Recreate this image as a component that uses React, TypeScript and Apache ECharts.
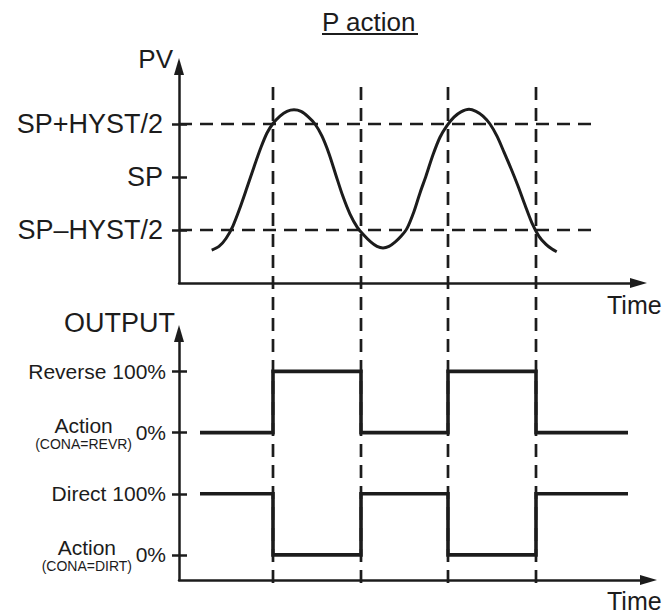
import React, { useEffect, useRef } from "react";
import * as echarts from "echarts";

// ---- data ----
// time axis (arbitrary time units)
const switchTimes = [94, 182, 269, 357]; // instants when PV crosses a hysteresis limit
// PV (level units: 1 = SP-HYST/2, 2 = SP, 3 = SP+HYST/2)
const pvTime = [
  32.7, 40, 47, 54, 61, 68, 75, 82, 88, 94, 101, 108, 115,
  122, 129, 136, 143, 150, 157, 164, 171, 178, 185, 192, 198, 204,
  210, 216, 222, 228, 235, 241, 247, 254, 261, 268, 275, 282, 290,
  297, 304, 311, 318, 325, 332, 339, 346, 353, 360, 367, 373, 377.7,
];
const pvValue = [
  0.62, 0.69, 0.84, 1.08, 1.42, 1.8, 2.19, 2.56, 2.83, 3.01, 3.15, 3.24, 3.27,
  3.24, 3.14, 3.0, 2.77, 2.44, 2.03, 1.63, 1.3, 1.06, 0.9, 0.77, 0.69, 0.66,
  0.69, 0.77, 0.88, 1.03, 1.35, 1.7, 2.02, 2.42, 2.75, 2.97, 3.13, 3.23, 3.28,
  3.24, 3.15, 3.0, 2.77, 2.47, 2.16, 1.83, 1.47, 1.13, 0.88, 0.73, 0.64, 0.59,
];
const hystLevels = [1, 3]; // SP-HYST/2, SP+HYST/2
const hystEnd = 414;
const pvTickValues = [1, 2, 3];
const pvTickLabels = ["SP\u2013HYST/2", "SP", "SP+HYST/2"];

const outTime = [21, 94, 182, 269, 357, 449];
const reverseOutput = [0, 100, 0, 100, 0, 0]; // %
const directOutput = [100, 0, 100, 0, 100, 100]; // %
const outTickValues = [0, 1, 2, 3];
const outTickLabels = ["0%", "Direct 100%", "0%", "Reverse 100%"];
const actionTickValues = [0, 2];
const actionTickLabels = ["(CONA=DIRT)", "(CONA=REVR)"];

const INK = "#1c1c1c";
const FONT = '"Liberation Sans", Arial, Helvetica, sans-serif';

const TOP_W = 459.5;
const BOT_W = 469.5;

function arrowAxisLine() {
  return {
    show: true,
    onZero: false,
    symbol: ["none", "triangle"],
    symbolSize: [10, 17],
    lineStyle: { color: INK, width: 2.5 },
  };
}

export default function App() {
  const ref = useRef<HTMLDivElement>(null);

  useEffect(() => {
    if (!ref.current) return;
    const chart = echarts.init(ref.current, null, { renderer: "svg" });

    const dashedVerticals = switchTimes.map((t) => ({
      type: "line",
      xAxisIndex: 2,
      yAxisIndex: 4,
      data: [
        [t, 0],
        [t, 1],
      ],
      showSymbol: false,
      silent: true,
      z: 1,
      lineStyle: { color: INK, width: 2.7, type: [13, 8] },
    }));

    const hystSeries = hystLevels.map((lv) => ({
      type: "line",
      xAxisIndex: 0,
      yAxisIndex: 0,
      data: [
        [0, lv],
        [hystEnd, lv],
      ],
      showSymbol: false,
      silent: true,
      z: 1,
      lineStyle: { color: INK, width: 2.7, type: [13, 8] },
    }));

    const option: any = {
      animation: false,
      backgroundColor: "#ffffff",
      textStyle: { fontFamily: FONT, color: INK },
      grid: [
        { left: 179, top: 66.5, width: TOP_W, height: 216.5 },
        { left: 179, top: 333.5, width: BOT_W, height: 246.5 },
        { left: 179, top: 80, width: TOP_W, height: 503 },
      ],
      xAxis: [
        {
          type: "value",
          gridIndex: 0,
          min: 0,
          max: TOP_W,
          axisLine: arrowAxisLine(),
          axisTick: { show: false },
          axisLabel: { show: false },
          splitLine: { show: false },
        },
        {
          type: "value",
          gridIndex: 1,
          min: 0,
          max: BOT_W,
          axisLine: arrowAxisLine(),
          axisTick: { show: false },
          axisLabel: { show: false },
          splitLine: { show: false },
        },
        {
          type: "value",
          gridIndex: 2,
          min: 0,
          max: TOP_W,
          show: false,
        },
      ],
      yAxis: [
        {
          type: "value",
          gridIndex: 0,
          position: "left",
          min: 0,
          max: 216.5 / 53,
          axisLine: arrowAxisLine(),
          axisTick: {
            show: true,
            length: 7,
            customValues: pvTickValues,
            lineStyle: { color: INK, width: 2.5 },
          },
          axisLabel: {
            customValues: pvTickValues,
            margin: 16,
            fontSize: 27,
            fontFamily: FONT,
            color: INK,
            formatter: (v: number) => pvTickLabels[pvTickValues.indexOf(v)] ?? "",
          },
          splitLine: { show: false },
        },
        {
          type: "value",
          gridIndex: 0,
          position: "left",
          offset: 0,
          min: 0,
          max: 216.5 / 53,
          axisLine: { show: false, onZero: false },
          axisTick: {
            show: true,
            inside: true,
            length: 8,
            customValues: pvTickValues,
            lineStyle: { color: INK, width: 2.5 },
          },
          axisLabel: { show: false },
          splitLine: { show: false },
        },
        {
          type: "value",
          gridIndex: 1,
          position: "left",
          min: -0.41,
          max: 3.62,
          axisLine: arrowAxisLine(),
          axisTick: {
            show: true,
            length: 7,
            customValues: outTickValues,
            lineStyle: { color: INK, width: 2.5 },
          },
          axisLabel: {
            customValues: outTickValues,
            margin: 13,
            fontSize: 21,
            fontFamily: FONT,
            color: INK,
            formatter: (v: number) => outTickLabels[outTickValues.indexOf(v)] ?? "",
          },
          splitLine: { show: false },
        },
        {
          type: "value",
          gridIndex: 1,
          position: "left",
          offset: 0,
          min: -0.41,
          max: 3.62,
          axisLine: { show: false, onZero: false },
          axisTick: {
            show: true,
            inside: true,
            length: 8,
            customValues: outTickValues,
            lineStyle: { color: INK, width: 2.5 },
          },
          axisLabel: {
            customValues: actionTickValues,
            margin: 47,
            formatter: (v: number) => {
              const s = actionTickLabels[actionTickValues.indexOf(v)];
              return s ? "{a|Action}\n{c|" + s + "}" : "";
            },
            rich: {
              a: { fontSize: 21, fontFamily: FONT, color: INK, align: "center", lineHeight: 22 },
              c: { fontSize: 14, fontFamily: FONT, color: INK, align: "center", lineHeight: 15 },
            },
          },
          splitLine: { show: false },
        },
        {
          type: "value",
          gridIndex: 2,
          min: 0,
          max: 1,
          show: false,
        },
      ],
      series: [
        ...dashedVerticals,
        ...hystSeries,
        {
          type: "line",
          name: "PV",
          xAxisIndex: 0,
          yAxisIndex: 0,
          data: pvTime.map((t, i) => [t, pvValue[i]]),
          smooth: 0.3,
          showSymbol: false,
          z: 5,
          lineStyle: { color: INK, width: 3 },
        },
        {
          type: "line",
          name: "Reverse",
          xAxisIndex: 1,
          yAxisIndex: 2,
          step: "end",
          data: outTime.map((t, i) => [t, 2 + reverseOutput[i] / 100]),
          showSymbol: false,
          z: 5,
          lineStyle: { color: INK, width: 3.6, join: "miter", cap: "butt" },
        },
        {
          type: "line",
          name: "Direct",
          xAxisIndex: 1,
          yAxisIndex: 2,
          step: "end",
          data: outTime.map((t, i) => [t, directOutput[i] / 100]),
          showSymbol: false,
          z: 5,
          lineStyle: { color: INK, width: 3.6, join: "miter", cap: "butt" },
        },
      ],
      graphic: [
        {
          type: "text",
          x: 322,
          y: 21.5,
          style: { text: "P action", fontSize: 26, fontFamily: FONT, fill: INK, align: "left", verticalAlign: "middle" },
        },
        {
          type: "line",
          shape: { x1: 322, y1: 34, x2: 418, y2: 34 },
          style: { stroke: INK, lineWidth: 2 },
        },
        {
          type: "text",
          x: 173,
          y: 59,
          style: { text: "PV", fontSize: 26, fontFamily: FONT, fill: INK, align: "right", verticalAlign: "middle" },
        },
        {
          type: "text",
          x: 175,
          y: 322.5,
          style: { text: "OUTPUT", fontSize: 27, fontFamily: FONT, fill: INK, align: "right", verticalAlign: "middle" },
        },
        {
          type: "text",
          x: 607,
          y: 305,
          style: { text: "Time", fontSize: 25, fontFamily: FONT, fill: INK, align: "left", verticalAlign: "middle" },
        },
        {
          type: "text",
          x: 607,
          y: 600.5,
          style: { text: "Time", fontSize: 25, fontFamily: FONT, fill: INK, align: "left", verticalAlign: "middle" },
        },
      ],
    };

    chart.setOption(option);
    return () => {
      chart.dispose();
    };
  }, []);

  return (
    <div
      ref={ref}
      style={{ position: "absolute", left: 0, top: 0, width: 669, height: 614, background: "#fff" }}
    />
  );
}
